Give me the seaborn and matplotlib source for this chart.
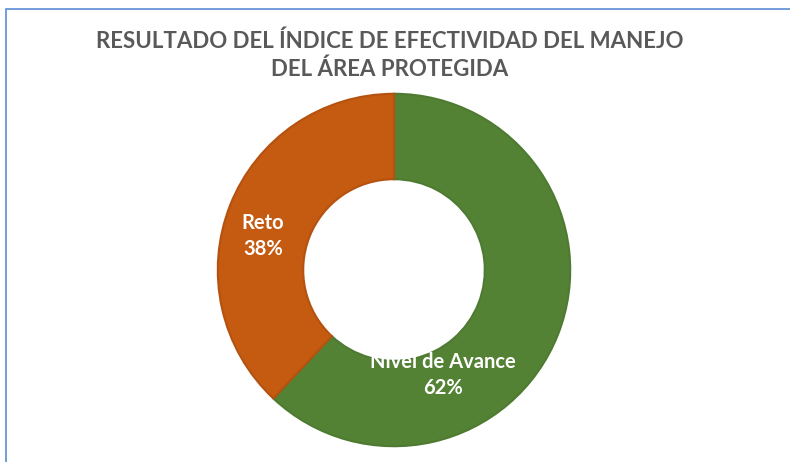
import matplotlib
matplotlib.use("Agg")
import matplotlib.pyplot as plt
import matplotlib.patches as mpatches
import seaborn as sns

# data
categories = ["Nivel de Avance", "Reto"]
values = [62, 38]
colors = ["#548235", "#C55A11"]
edge_colors = ["#4E7A31", "#B55210"]
title_text = "RESULTADO DEL ÍNDICE DE EFECTIVIDAD DEL MANEJO\nDEL ÁREA PROTEGIDA"
label_pos = [(0.275, -0.59), (-0.736, 0.191)]

sns.set_theme(style="white")
plt.rcParams['font.family'] = ['Lato', 'DejaVu Sans']

fig = plt.figure(figsize=(7.9, 4.62), dpi=100)

# thin blue frame like the excel chart box
frame = mpatches.Rectangle((6 / 790, -0.1), 1.0, 1 - 9 / 462 + 0.1, transform=fig.transFigure,
                           fill=False, edgecolor="#5B8ED6", linewidth=1.2)
fig.patches.append(frame)

ax = fig.add_axes([216 / 790, 14 / 462, 356 / 790, 356 / 462])
wedges, _ = ax.pie(values, colors=colors, startangle=90, counterclock=False,
                   radius=0.99,
                   wedgeprops=dict(width=0.48, linewidth=1.5))
for w, ec in zip(wedges, edge_colors):
    w.set_edgecolor(ec)
ax.set_xlim(-1, 1)
ax.set_ylim(-1, 1)
ax.set_aspect('equal')
ax.axis('off')

for cat, val, (x, y) in zip(categories, values, label_pos):
    ax.text(x, y, f"{cat}\n{val}%", ha='center', va='center', color='white',
            fontsize=14.5, fontweight='bold', linespacing=1.35)

fig.text(390 / 790, 1 - 55 / 462, title_text, ha='center', va='center',
         fontsize=16, fontweight='bold', color='#595959', linespacing=1.4)

plt.savefig("out.png", dpi=100)
